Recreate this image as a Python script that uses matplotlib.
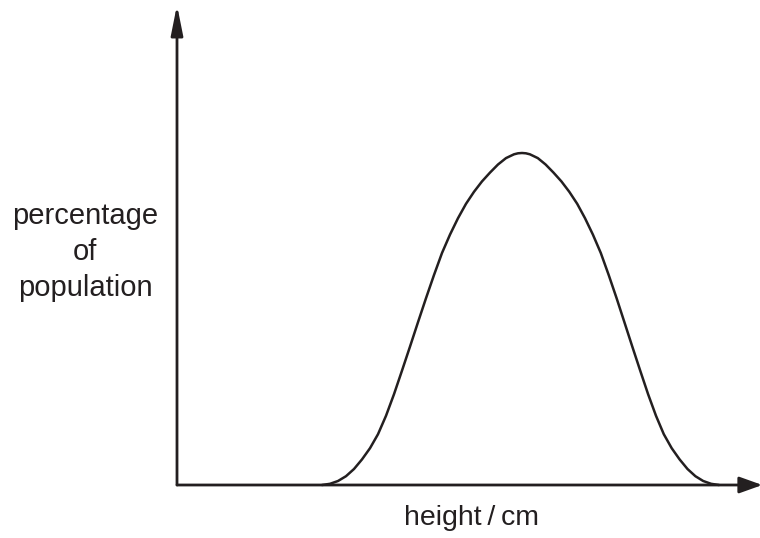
import matplotlib
matplotlib.use("Agg")
import matplotlib.pyplot as plt

# Curve (arbitrary units: height, percentage)
height = [145, 153, 161, 169, 177, 185, 193, 201, 209, 217, 225, 233, 241,
          249, 257, 265, 273, 281, 289, 297, 305, 313, 321, 329, 337, 341, 345,
          348.9, 352.9, 360.8, 368.6, 376.5, 384.4, 392.3, 400.2, 408.0, 415.9,
          423.8, 431.7, 439.6, 447.4, 455.3, 463.2, 471.1, 479.0, 486.8, 494.7,
          502.6, 510.5, 518.4, 526.2, 534.1, 542.0]
percentage = [0, 1.2, 4.0, 8.8, 16.0, 25.6, 36.8, 50.8, 69.2, 90.8, 114.4,
              138.4, 162.8, 186.8, 210.0, 232.0, 250.4, 266.8, 281.2, 293.2,
              303.6, 312.4, 320.5, 326.9, 330.7, 331.7, 332.0,
              331.7, 330.7, 326.9, 320.5, 312.4, 303.6, 293.2, 281.2, 266.8,
              250.4, 232.0, 210.0, 186.8, 162.8, 138.4, 114.4, 90.8, 69.2, 50.8,
              36.8, 25.6, 16.0, 8.8, 4.0, 1.2, 0]

x_label = "height\u2009/\u2009cm"
y_label = "percentage\nof\npopulation"

ink = "#231f20"
W, H, DPI = 760, 538, 100
fig = plt.figure(figsize=(W / DPI, H / DPI), dpi=DPI)
x0, y0 = 177, 485
ax = fig.add_axes([x0 / W, (H - y0) / H, (W - x0) / W, (y0 - 5) / H])
ax.set_xlim(0, W - x0)
ax.set_ylim(0, y0 - 5)
ax.axis("off")

ax.plot(height, percentage, color=ink, lw=1.8, solid_capstyle="round",
        solid_joinstyle="round", clip_on=False)

# axes with arrows
ax.annotate("", xy=(0, 1.0), xytext=(0, 0), xycoords="axes fraction",
            arrowprops=dict(arrowstyle="-|>,head_length=1.8,head_width=0.36",
                            color=ink, lw=2.0, shrinkA=0, shrinkB=0))
ax.annotate("", xy=(1.004, 0), xytext=(0, 0), xycoords="axes fraction",
            arrowprops=dict(arrowstyle="-|>,head_length=1.4,head_width=0.5",
                            color=ink, lw=2.0, shrinkA=0, shrinkB=0))

font = ["Liberation Sans", "DejaVu Sans"]
fig.text(471 / W, 1 - 518 / H, x_label, ha="center", va="center",
         fontsize=20.5, color=ink, family=font)
fig.text(85 / W, 1 - 252 / H, y_label, ha="center", va="center",
         multialignment="center", fontsize=21, color=ink, family=font,
         linespacing=1.35)

fig.savefig("out.png", dpi=DPI)
